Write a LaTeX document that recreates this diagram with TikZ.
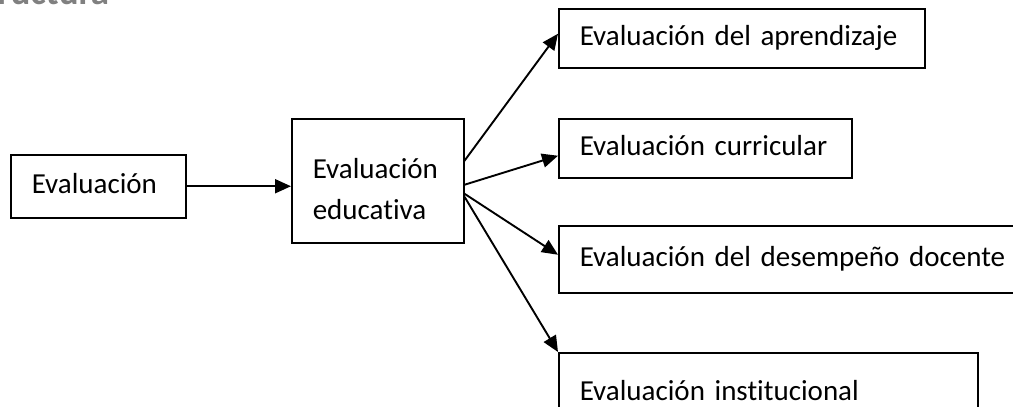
\documentclass[tikz,border=0pt]{standalone}
\usepackage{fontspec}
\setmainfont{Carlito}[Ligatures=NoCommon]
\usetikzlibrary{arrows.meta}
\begin{document}
\begin{tikzpicture}[x=1pt,y=-1pt,
  every node/.style={font=\fontsize{29pt}{41.5pt}\selectfont},
  box/.style={draw, line width=1.5pt, anchor=north west, inner xsep=21pt,
    inner ysep=0pt, align=left, text height=20pt, text depth=6pt},
  conn/.style={line width=1.9pt, -{Triangle[length=16pt,width=14pt]}}]
\useasboundingbox (0,0) rectangle (1013,407);
\clip (0,0) rectangle (1013,407);
\fill[white] (0,0) rectangle (1013,407);
\node[anchor=base west, text=black!50, inner sep=0pt,
  font=\fontsize{37pt}{40pt}\selectfont\bfseries] (head) at (-48,4) {Estructura};
\node[box, text width=133pt, minimum height=63pt] (ev) at (10,154) {Evaluación};
\node[box, text width=130pt, minimum height=124pt, text depth=25pt] (edu) at (291,118) {Evaluación\\educativa};
\node[box, text width=324pt, minimum height=59pt] (b1) at (558,8) {Evaluación del aprendizaje};
\node[box, text width=251pt, minimum height=59pt] (b2) at (558,118) {Evaluación curricular};
\node[box, text width=470pt, minimum height=67pt] (b3) at (558,225) {Evaluación del desempeño docente};
\node[box, text width=377pt, minimum height=82pt] (b4) at (558,352) {Evaluación institucional};
\draw[conn] (ev.east) -- (ev.east -| edu.west);
\draw[conn] ([yshift=20pt]edu.east) -- ([yshift=4.5pt]b1.west);
\draw[conn] ([yshift=-4pt]edu.east) -- ([yshift=-7.5pt]b2.west);
\draw[conn] ([yshift=-13pt]edu.east) -- ([yshift=4.5pt]b3.west);
\draw[conn] ([yshift=-16pt]edu.east) -- (b4.north west);
\end{tikzpicture}
\end{document}
